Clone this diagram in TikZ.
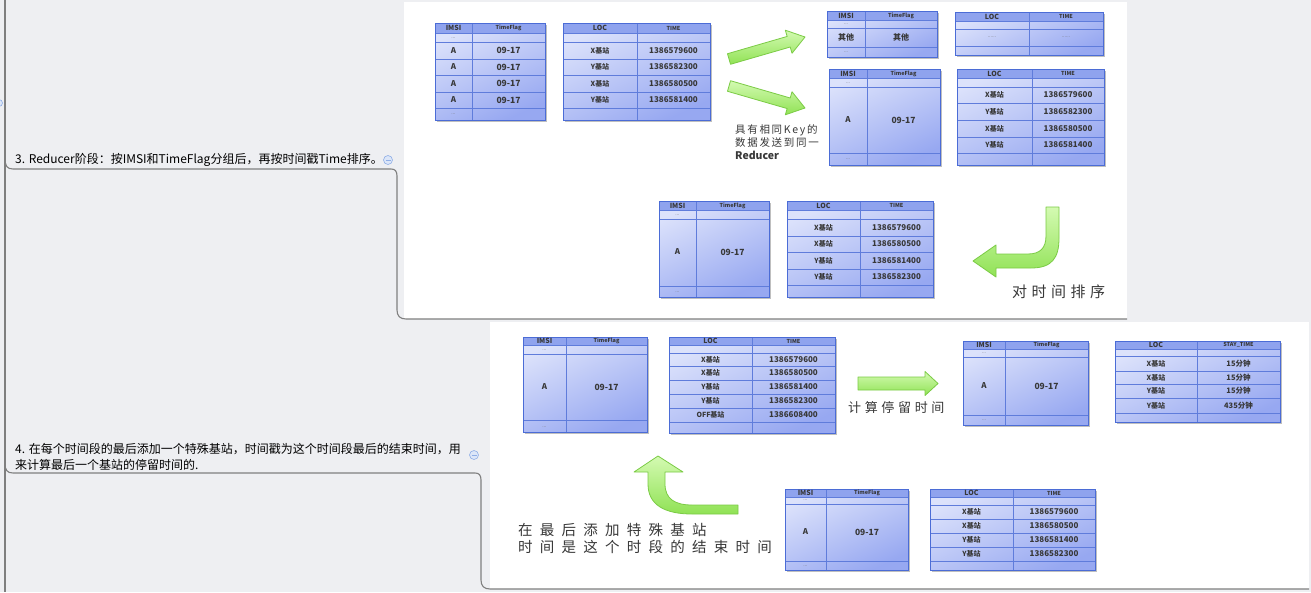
\documentclass[tikz,border=0pt]{standalone}
\usepackage{fontspec}
\setmainfont{Noto Sans CJK SC}
\usetikzlibrary{calc}
\definecolor{bg}{HTML}{EEEFF2}
\definecolor{mline}{HTML}{7F7F7F}
\definecolor{tbA}{HTML}{DCE2FB}
\definecolor{tbB}{HTML}{97A8F1}
\definecolor{thd}{HTML}{8FA3EE}
\definecolor{tbd}{HTML}{4B6CD6}
\definecolor{tln}{HTML}{5F7CDB}
\definecolor{gA}{HTML}{D4FAB2}
\definecolor{gB}{HTML}{90E255}
\definecolor{gD}{HTML}{7BCB45}
\definecolor{txt}{HTML}{383838}
\definecolor{icoA}{HTML}{DCE6F8}
\definecolor{icoB}{HTML}{8FAEE6}
\newcommand{\tbl}[7]{%
  \fill[black!25] ({#1+1.5},{#4+1.5}) rectangle ({#3+1.5},{#5+1.5});
  \shade[top color=tbA, bottom color=tbB, shading angle=25] (#1,#4) rectangle (#3,#5);
  \fill[thd] (#1,#4) rectangle (#3,#6);
  \foreach \yy in {#6,#7} \draw[tln, line width=0.6pt] (#1,\yy) -- (#3,\yy);
  \draw[tln, line width=0.6pt] (#2,#4) -- (#2,#5);
  \draw[tbd, line width=1pt] (#1,#4) rectangle (#3,#5);
}
\newcommand{\tx}[4]{\node[font=\fontsize{#3}{#3}\selectfont\bfseries, text=txt, inner sep=0pt] at (#1,#2) {#4};}
\newcommand{\tdots}[2]{\node[font=\fontsize{5}{5}\selectfont, text=black!55, inner sep=0pt] at (#1,#2) {...};}
\newcommand{\garrow}[5]{%
  \coordinate (hb) at ($(#2)!#5!(#1)$);
  \path[garrowst] ($(#1)!#3!90:(#2)$) -- ($(hb)!#3!-90:(#1)$) -- ($(hb)!#4!-90:(#1)$) -- (#2)
    -- ($(hb)!#4!90:(#1)$) -- ($(hb)!#3!90:(#1)$) -- ($(#1)!#3!-90:(#2)$) -- cycle;
}
\begin{document}
\begin{tikzpicture}[x=1pt,y=-1pt,
  mline/.style={draw=mline, line width=1.1pt},
  garrowst/.style={top color=gA, bottom color=gB, draw=gD, line width=0.8pt, line join=round},
  note/.style={inner sep=0pt, anchor=west, text=black!78}]
\useasboundingbox (0,0) rectangle (1311,592);
\fill[bg] (0,0) rectangle (1311,592);
% panels
\fill[white] (404,2) rectangle (1127,319);
\fill[white] (490,322) rectangle (1309,589);
% mind map connectors
\draw[mline] (5,0) -- (5,592);
\draw[mline] (5,158) .. controls (5,166) and (7,169) .. (13,169) -- (391,169)
  .. controls (395,169) and (397,171) .. (397,176) -- (397,310)
  .. controls (397,316) and (400,319) .. (406,319) -- (1127,319);
\draw[mline] (5,463) .. controls (5,470) and (7,473) .. (13,473) -- (475,473)
  .. controls (479,473) and (481,475) .. (481,480) -- (481,580)
  .. controls (481,586) and (484,589) .. (490,589) -- (1309,589);
% collapse icons
\draw[fill=icoA, draw=icoB, line width=0.6pt] (388,160) circle (4.5);
\draw[icoB, line width=0.8pt] (385.5,160) -- (390.5,160);
\draw[fill=icoA, draw=icoB, line width=0.6pt] (474,455) circle (4.5);
\draw[icoB, line width=0.8pt] (471.5,455) -- (476.5,455);
\fill[icoA, draw=icoB, line width=0.6pt] (-1,103) circle (3.5);
% topic texts
\node[inner sep=0pt, anchor=west, font=\fontsize{12}{14}\selectfont] (t3) at (15,160) {3. Reducer阶段：按IMSI和TimeFlag分组后，再按时间戳Time排序。};
\node[inner sep=0pt, anchor=west, font=\fontsize{12}{14}\selectfont] (t4a) at (15,449) {4. 在每个时间段的最后添加一个特殊基站，时间戳为这个时间段最后的结束时间，用};
\node[inner sep=0pt, anchor=west, font=\fontsize{12}{14}\selectfont] (t4b) at (15,465) {来计算最后一个基站的停留时间的.};

% ---------- T1 ----------
\tbl{435}{472}{545}{23}{120}{33}{42,59,75,92,108}
\tx{453.5}{28}{7}{IMSI}\tx{508.5}{28}{5.5}{TimeFlag}\tdots{453.5}{38}
\foreach \y in {50.5,67,83.5,100}{\tx{453.5}{\y}{8}{A}\tx{508.5}{\y}{8.5}{09-17}}
\tdots{453.5}{114}
% ---------- T2 ----------
\tbl{563}{637}{710}{23}{120}{33}{42,59,75,92,108}
\tx{600}{28}{7}{LOC}\tx{673.5}{28}{5.5}{TIME}
\tx{600}{50.5}{7}{X基站}\tx{673.5}{50.5}{8}{1386579600}
\tx{600}{67}{7}{Y基站}\tx{673.5}{67}{8}{1386582300}
\tx{600}{83.5}{7}{X基站}\tx{673.5}{83.5}{8}{1386580500}
\tx{600}{100}{7}{Y基站}\tx{673.5}{100}{8}{1386581400}
% ---------- T3 ----------
\tbl{827}{865}{937}{11}{57}{20}{28,47}
\tx{846}{15.5}{7}{IMSI}\tx{901}{15.5}{5.5}{TimeFlag}\tdots{846}{24}
\tx{846}{37.5}{8}{其他}\tx{901}{37.5}{8}{其他}\tdots{846}{52}
% ---------- T4 ----------
\tbl{955}{1029}{1103}{12}{55}{21}{29,46}
\tx{992}{16.5}{7}{LOC}\tx{1066}{16.5}{5.5}{TIME}
\node[font=\fontsize{5}{5}\selectfont, text=black!55] at (992,37.5) {......};
\node[font=\fontsize{5}{5}\selectfont, text=black!55] at (1066,37.5) {......};
% ---------- T5 ----------
\tbl{829}{867}{940}{69}{165}{78}{87,153}
\tx{848}{73.5}{7}{IMSI}\tx{903.5}{73.5}{5.5}{TimeFlag}\tdots{848}{83}
\tx{848}{120}{8}{A}\tx{903.5}{120}{8.5}{09-17}\tdots{848}{159}
% ---------- T6 ----------
\tbl{957}{1032}{1104}{69}{165}{78}{87,103,120,137,153}
\tx{994.5}{73.5}{7}{LOC}\tx{1068}{73.5}{5.5}{TIME}
\tx{994.5}{95}{7}{X基站}\tx{1068}{95}{8}{1386579600}
\tx{994.5}{111.5}{7}{Y基站}\tx{1068}{111.5}{8}{1386582300}
\tx{994.5}{128.5}{7}{X基站}\tx{1068}{128.5}{8}{1386580500}
\tx{994.5}{145}{7}{Y基站}\tx{1068}{145}{8}{1386581400}
% ---------- T7 ----------
\tbl{659}{696}{769}{201}{297}{210}{219,286}
\tx{677.5}{205.5}{7}{IMSI}\tx{732.5}{205.5}{5.5}{TimeFlag}\tdots{677.5}{215}
\tx{677.5}{252}{8}{A}\tx{732.5}{252}{8.5}{09-17}\tdots{677.5}{292}
% ---------- T8 ----------
\tbl{787}{860}{933}{201}{297}{210}{219,236,252,269,285}
\tx{823.5}{205.5}{7}{LOC}\tx{896.5}{205.5}{5.5}{TIME}
\tx{823.5}{227.5}{7}{X基站}\tx{896.5}{227.5}{8}{1386579600}
\tx{823.5}{244}{7}{X基站}\tx{896.5}{244}{8}{1386580500}
\tx{823.5}{260.5}{7}{Y基站}\tx{896.5}{260.5}{8}{1386581400}
\tx{823.5}{277}{7}{Y基站}\tx{896.5}{277}{8}{1386582300}
% ---------- T9 ----------
\tbl{523}{566}{647}{337}{432}{345}{354,420}
\tx{544.5}{341}{7}{IMSI}\tx{606.5}{341}{5.5}{TimeFlag}\tdots{544.5}{350}
\tx{544.5}{387}{8}{A}\tx{606.5}{387}{8.5}{09-17}\tdots{544.5}{427}
% ---------- T10 ----------
\tbl{669}{752}{835}{337}{433}{345}{353,366,380,394,408,422}
\tx{710.5}{341}{7}{LOC}\tx{793.5}{341}{5.5}{TIME}
\tx{710.5}{359.5}{7}{X基站}\tx{793.5}{359.5}{8}{1386579600}
\tx{710.5}{373}{7}{X基站}\tx{793.5}{373}{8}{1386580500}
\tx{710.5}{387}{7}{Y基站}\tx{793.5}{387}{8}{1386581400}
\tx{710.5}{401}{7}{Y基站}\tx{793.5}{401}{8}{1386582300}
\tx{710.5}{415}{7}{OFF基站}\tx{793.5}{415}{8}{1386608400}
% ---------- T11 ----------
\tbl{963}{1005}{1088}{341}{425}{349}{357,415}
\tx{984}{345}{7}{IMSI}\tx{1046.5}{345}{5.5}{TimeFlag}\tdots{984}{353}
\tx{984}{386}{8}{A}\tx{1046.5}{386}{8.5}{09-17}\tdots{984}{420}
% ---------- T12 ----------
\tbl{1115}{1197}{1280}{341}{422}{349}{356,371,384,398,413}
\tx{1156}{345}{7}{LOC}\tx{1238.5}{345}{5.5}{STAY\_TIME}
\tx{1156}{363.5}{7}{X基站}\tx{1238.5}{363.5}{7.5}{15分钟}
\tx{1156}{377.5}{7}{X基站}\tx{1238.5}{377.5}{7.5}{15分钟}
\tx{1156}{391}{7}{Y基站}\tx{1238.5}{391}{7.5}{15分钟}
\tx{1156}{405.5}{7}{Y基站}\tx{1238.5}{405.5}{7.5}{435分钟}
% ---------- T13 ----------
\tbl{785}{826}{908}{489}{570}{497}{504,561}
\tx{805.5}{493}{7}{IMSI}\tx{867}{493}{5.5}{TimeFlag}\tdots{805.5}{500.5}
\tx{805.5}{532}{8}{A}\tx{867}{532}{8.5}{09-17}\tdots{805.5}{566}
% ---------- T14 ----------
\tbl{930}{1013}{1095}{489}{570}{497}{505,519,533,547,561}
\tx{971.5}{493}{7}{LOC}\tx{1054}{493}{5.5}{TIME}
\tx{971.5}{512}{7}{X基站}\tx{1054}{512}{8}{1386579600}
\tx{971.5}{526}{7}{X基站}\tx{1054}{526}{8}{1386580500}
\tx{971.5}{540}{7}{Y基站}\tx{1054}{540}{8}{1386581400}
\tx{971.5}{554}{7}{Y基站}\tx{1054}{554}{8}{1386582300}

% ---------- green arrows ----------
\coordinate (a1t) at (729,59); \coordinate (a1h) at (805,37);
\coordinate (a2t) at (729,86); \coordinate (a2h) at (805,108);
\coordinate (a3t) at (858,383.5); \coordinate (a3h) at (938,383.5);
\garrow{a1t}{a1h}{5.5pt}{12pt}{17pt}
\garrow{a2t}{a2h}{5.5pt}{12pt}{17pt}
\garrow{a3t}{a3h}{6.5pt}{12pt}{13pt}
% U-turn (sort)
\path[garrowst] (1046,207) -- (1059,207) -- (1059,238)
  .. controls (1059,258) and (1052,268) .. (1031,268) -- (996,268) -- (996,277) -- (973,261)
  -- (996,245) -- (996,254) -- (1028,254) .. controls (1040,254) and (1046,248) .. (1046,236) -- cycle;
% up arrow
\path[garrowst] (634,472) -- (658,456) -- (683,472) -- (665,472) -- (665,484)
  .. controls (665,499) and (675,505) .. (692,505) -- (738,505) -- (738,514) -- (692,514)
  .. controls (665,514) and (648,505) .. (648,484) -- (648,472) -- cycle;

% ---------- annotations ----------
\node[note, font=\fontsize{10.5}{12}\selectfont\addfontfeature{LetterSpace=16}] (n1) at (735,130) {具有相同Key的};
\node[note, font=\fontsize{10.5}{12}\selectfont\addfontfeature{LetterSpace=16}] (n2) at (735,143) {数据发送到同一};
\node[note, font=\fontsize{10.5}{12}\selectfont\bfseries] (n3) at (735,155.5) {Reducer};
\node[note, font=\fontsize{15}{16}\selectfont\addfontfeature{LetterSpace=30}] (n4) at (1012,292) {对时间排序};
\node[note, font=\fontsize{13}{14}\selectfont\addfontfeature{LetterSpace=28}] (n5) at (848,408) {计算停留时间};
\node[note, font=\fontsize{14.5}{16}\selectfont\addfontfeature{LetterSpace=50}] (n6) at (518,530) {在最后添加特殊基站};
\node[note, font=\fontsize{14.5}{16}\selectfont\addfontfeature{LetterSpace=50}] (n7) at (518,546.5) {时间是这个时段的结束时间};
\end{tikzpicture}
\end{document}
